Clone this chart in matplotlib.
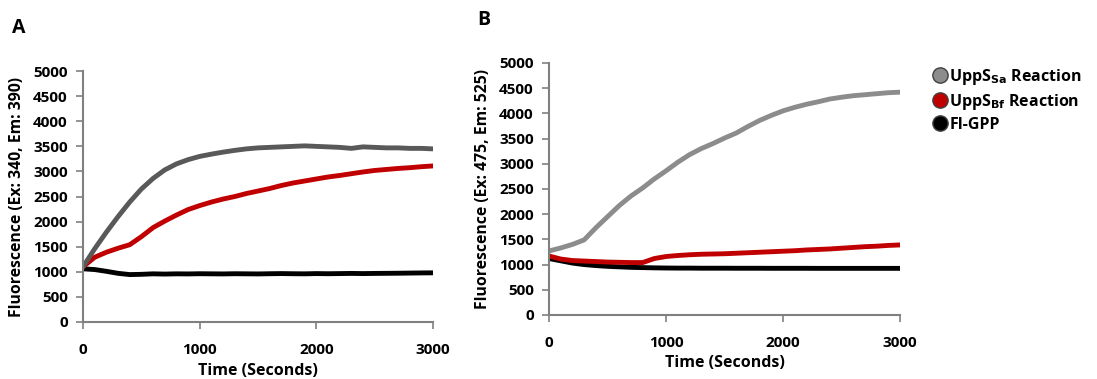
import matplotlib
matplotlib.use('Agg')
import matplotlib.pyplot as plt
from matplotlib.lines import Line2D

plt.rcParams['font.family'] = ['Open Sans', 'DejaVu Sans']
plt.rcParams['font.weight'] = 'bold'
plt.rcParams['mathtext.default'] = 'regular'

# time points (s)
time = [0, 100, 200, 300, 400, 500, 600, 700, 800, 900, 1000,
        1100, 1200, 1300, 1400, 1500, 1600, 1700, 1800, 1900, 2000,
        2100, 2200, 2300, 2400, 2500, 2600, 2700, 2800, 2900, 3000]

# panel A (Ex 340 / Em 390)
a_sa = [1100, 1460, 1790, 2100, 2390, 2650, 2860, 3030, 3150, 3235, 3300,
        3345, 3385, 3420, 3450, 3470, 3480, 3490, 3500, 3510, 3500,
        3490, 3480, 3460, 3490, 3480, 3470, 3470, 3460, 3460, 3450]
a_bf = [1100, 1290, 1390, 1470, 1540, 1700, 1880, 2010, 2130, 2240, 2320,
        2390, 2450, 2500, 2560, 2610, 2660, 2720, 2770, 2810, 2850,
        2890, 2920, 2955, 2990, 3020, 3040, 3060, 3075, 3095, 3110]
a_gpp = [1060, 1045, 1010, 970, 945, 950, 960, 955, 960, 958, 962,
         960, 958, 962, 960, 958, 962, 965, 962, 960, 965,
         962, 965, 968, 965, 968, 970, 972, 975, 978, 980]

# panel B (Ex 475 / Em 525)
b_sa = [1270, 1330, 1400, 1490, 1730, 1950, 2170, 2360, 2520, 2700, 2860,
        3030, 3180, 3300, 3400, 3510, 3610, 3740, 3860, 3960, 4050,
        4120, 4180, 4230, 4285, 4320, 4350, 4370, 4390, 4410, 4420]
b_bf = [1170, 1110, 1080, 1070, 1060, 1050, 1045, 1040, 1040, 1120, 1160,
        1180, 1195, 1205, 1210, 1215, 1225, 1235, 1245, 1255, 1265,
        1275, 1290, 1300, 1310, 1325, 1340, 1355, 1365, 1380, 1390]
b_gpp = [1120, 1075, 1030, 1000, 980, 965, 955, 945, 940, 935, 932,
         930, 930, 928, 928, 928, 927, 927, 927, 926, 926,
         926, 926, 925, 925, 925, 925, 925, 925, 925, 925]

labels = ['UppS$_{\\bf{Sa}}$ Reaction', 'UppS$_{\\bf{Bf}}$ Reaction', 'Fl-GPP']
red = '#c00000'

fig = plt.figure(figsize=(10.97, 3.79), dpi=100)
axA = fig.add_axes([0.0757, 0.1504, 0.319, 0.662])
axB = fig.add_axes([0.5005, 0.1689, 0.320, 0.665])


def style_ax(ax, ylabel, xlab_y):
    for s in ['top', 'right']:
        ax.spines[s].set_visible(False)
    for s in ['left', 'bottom']:
        ax.spines[s].set_color('#808080')
        ax.spines[s].set_linewidth(1.5)
    ax.set_xlim(0, 3000)
    ax.set_ylim(0, 5000)
    ax.set_xticks([0, 1000, 2000, 3000])
    ax.set_yticks(range(0, 5001, 500))
    ax.tick_params(axis='both', direction='out', color='#808080', width=1.2,
                   labelsize=11, length=5)
    ax.tick_params(axis='x', pad=10)
    ax.tick_params(axis='y', pad=6)
    ax.set_xlabel('Time (Seconds)', fontsize=11.5, fontweight='bold', va='center')
    ax.xaxis.set_label_coords(0.5, xlab_y)
    ax.set_ylabel(ylabel, fontsize=11.3, fontweight='bold', va='center')
    ax.yaxis.set_label_coords(-0.189, 0.5)


axA.plot(time, a_gpp, color='black', lw=3.5)
axA.plot(time, a_bf, color=red, lw=3.5)
axA.plot(time, a_sa, color='#595959', lw=3.5)
style_ax(axA, 'Fluorescence (Ex: 340, Em: 390)', -0.195)

axB.plot(time, b_gpp, color='black', lw=3.5)
axB.plot(time, b_bf, color=red, lw=3.5)
axB.plot(time, b_sa, color='#8c8c8c', lw=3.5)
style_ax(axB, 'Fluorescence (Ex: 475, Em: 525)', -0.19)

fig.text(0.011, 0.925, 'A', fontsize=14, fontweight='bold', va='center')
fig.text(0.435, 0.948, 'B', fontsize=14, fontweight='bold', va='center')

handles = [Line2D([], [], ls='none', marker='o', ms=11, mfc=c, mec='#404040', mew=1)
           for c in ['#8c8c8c', red, 'black']]
fig.legend(handles, labels, loc='upper left', bbox_to_anchor=(0.842, 0.84),
           frameon=False, fontsize=11.5, handletextpad=0.0, labelspacing=0.3,
           handlelength=1.2, borderaxespad=0)

fig.savefig('out.png', dpi=100)
